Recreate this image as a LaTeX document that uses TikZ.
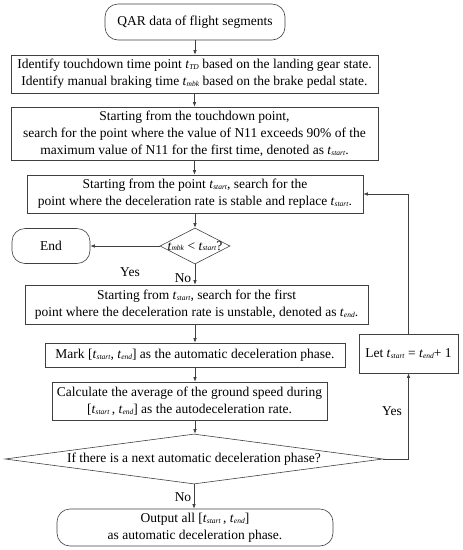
\documentclass[tikz,border=0pt]{standalone}
\usepackage{fontspec}
\setmainfont{Liberation Serif}
\usetikzlibrary{shapes,arrows.meta}
\newcommand{\tsub}[1]{\textit{t}\raisebox{-.8pt}{\fontsize{7.5}{8}\selectfont\textit{#1}}}
\tikzstyle{box}=[rectangle,draw=black!75,line width=.6pt,align=center,inner sep=0pt,font=\fontsize{13.5}{17}\selectfont]
\tikzstyle{term}=[box,rounded corners=13pt]
\tikzstyle{decision}=[diamond,draw=black!75,line width=.6pt,inner sep=0pt,label={[font=\fontsize{13.5}{17}\selectfont]center:#1}]
\tikzstyle{lbl}=[font=\fontsize{13.5}{17}\selectfont,inner sep=0pt]
\tikzstyle{arr}=[draw=black!75,line width=.6pt,-{Latex[length=4.5pt,width=3.5pt]}]

\begin{document}
\begin{tikzpicture}[x=1pt,y=-1pt]
\useasboundingbox (0,0) rectangle (463,550);
\node[term,minimum width=180,minimum height=36] (start) at (195,22) {QAR data of flight segments};
\node[box,minimum width=367,minimum height=38] (b1) at (194.5,74) {Identify touchdown time point \tsub{TD} based on the landing gear state.\\ Identify manual braking time \tsub{mbk} based on the brake pedal state.};
\node[box,minimum width=367,minimum height=53] (b2) at (194.5,133.5) {Starting from the touchdown point,\\ search for the point where the value of N11 exceeds 90\% of the\\ maximum value of N11 for the first time, denoted as \tsub{start}.};
\node[box,minimum width=336,minimum height=38] (b3) at (195,194) {Starting from the point \tsub{start}, search for the\\ point where the deceleration rate is stable and replace \tsub{start}.};
\node[decision={\tsub{mbk} < \tsub{start}?},minimum width=70,minimum height=36] (d1) at (195,246) {};
\node[term,minimum width=78,minimum height=35] (end) at (51,246) {End};
\node[box,minimum width=343,minimum height=39] (b4) at (196.5,304.5) {Starting from \tsub{start}, search for the first\\ point where the deceleration rate is unstable, denoted as \tsub{end}.};
\node[box,minimum width=300,minimum height=24] (b5) at (195,355) {Mark [\tsub{start}, \tsub{end}] as the automatic deceleration phase.};
\node[box,minimum width=99,minimum height=39] (let) at (408.5,353.5) {Let \tsub{start} = \tsub{end}+ 1};
\node[box,minimum width=275,minimum height=38] (b6) at (189.5,401) {Calculate the average of the ground speed during\\ {}[\tsub{start}\,, \tsub{end}] as the autodeceleration rate.};
\node[decision={If there is a next automatic deceleration phase?},minimum width=378,minimum height=50] (d2) at (194,459) {};
\node[term,minimum width=276,minimum height=37] (out) at (195,527.5) {Output all [\tsub{start}\,, \tsub{end}]\\ as automatic deceleration phase.};
\node[lbl] (yes1) at (130,272) {Yes}; \node[lbl] (no1) at (183,278) {No};
\node[lbl] (yes2) at (392,411) {Yes}; \node[lbl] (no2) at (183,497) {No};
\draw[arr] (start.south) -- (start.south |- b1.north);
\draw[arr] (b1.south) -- (b1.south |- b2.north);
\draw[arr] (b2.south) -- (b2.south |- b3.north);
\draw[arr] (b3.south) -- (b3.south |- d1.north);
\draw[arr] (d1.west) -- (end.east);
\draw[arr] (d1.south) -- (d1.south |- b4.north);
\draw[arr] (d1.south |- b4.south) -- (d1.south |- b5.north);
\draw[arr] (b5.south) -- (b5.south |- b6.north);
\draw[arr] (d1.south |- b6.south) -- (d1.south |- d2.north);
\draw[arr] (d2.south) -- (d2.south |- out.north);
\draw[arr] (d2.east) -| (let.south);
\draw[arr] (let.north) |- (b3.east);
\end{tikzpicture}
\end{document}
